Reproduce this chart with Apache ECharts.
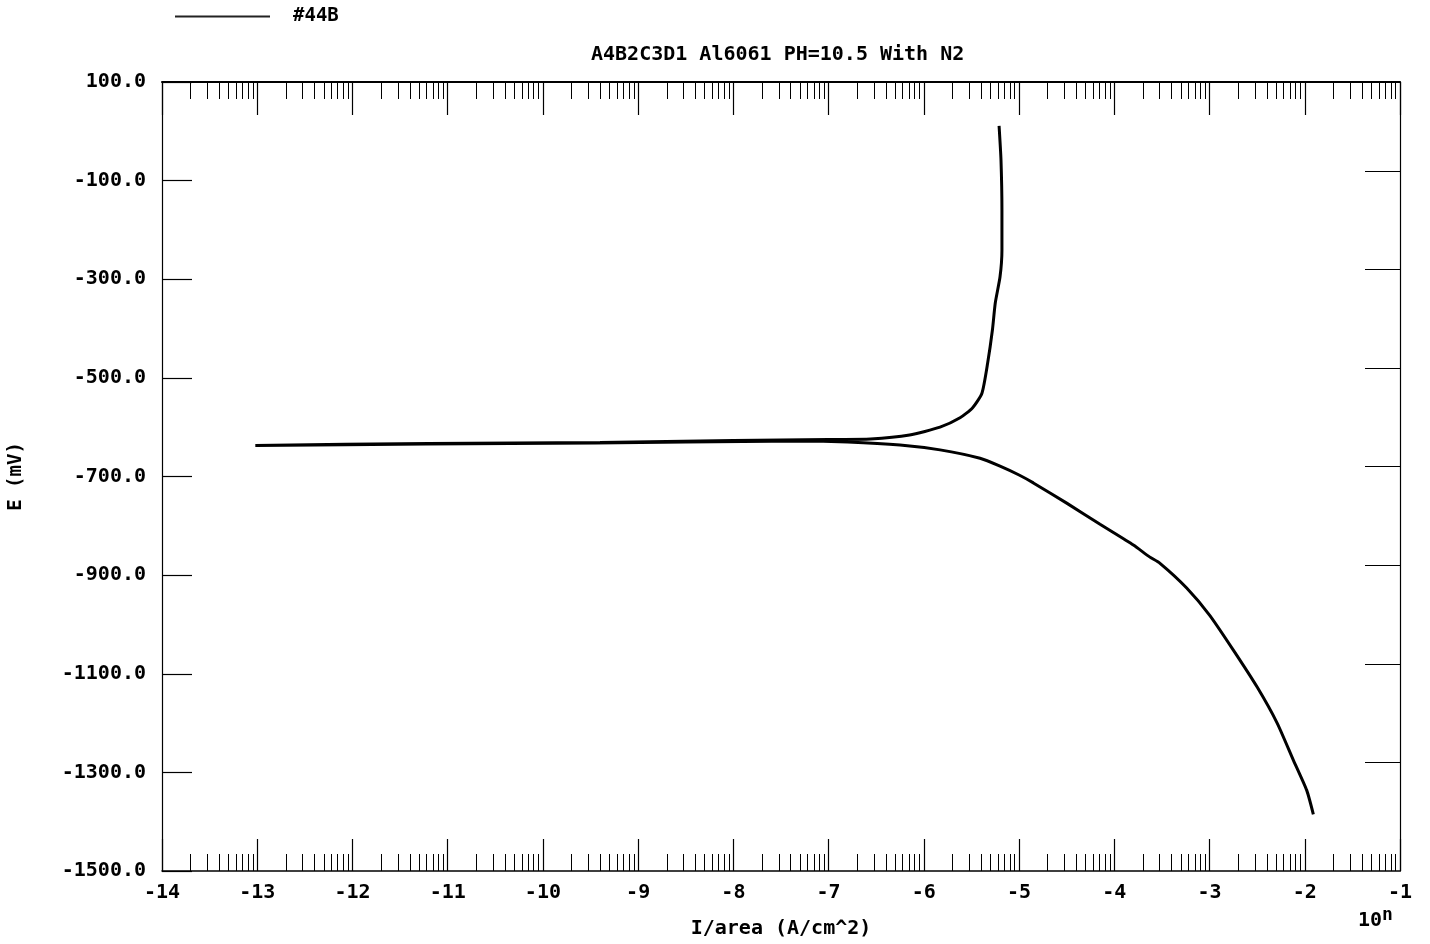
<!DOCTYPE html>
<html>
<head>
<meta charset="utf-8">
<script src="https://cdn.jsdelivr.net/npm/echarts@6/dist/echarts.min.js"></script>
<style>
  html, body { margin: 0; padding: 0; background: #fff; }
  #main { width: 1430px; height: 944px; }
</style>
</head>
<body>
<div id="main"></div>
<script>
// log10 of current density (x) and potential in mV (y)
var logCurrent = [-1.91, -1.98, -2.12, -2.29, -2.50, -2.75, -3.00, -3.24, -3.52, -3.63, -3.80,
    -4.15, -4.50, -4.85, -5.00, -5.20, -5.41, -5.83, -6.25, -6.80, -7.30, -8.50, -9.45, -11.23, -13.02,
    -11.20, -9.40, -8.00, -7.00, -6.56, -6.15, -5.83, -5.62, -5.49, -5.39, -5.33, -5.28, -5.25,
    -5.20, -5.18, -5.18, -5.19, -5.21];
var potential = [-1385, -1336, -1275, -1200, -1127, -1052, -981, -926, -876, -863, -839,
    -797, -754, -713, -697, -679, -663, -646, -636, -630, -628, -630, -632, -634, -637,
    -633, -631, -627, -625, -624, -616, -600, -581, -561, -531, -470, -403, -348,
    -295, -241, -160, -58, 11];

var yTicks = [-1500, -1300, -1100, -900, -700, -500, -300, -100, 100];
var yTicksRight = [-1280, -1080, -880, -680, -480, -280, -80];
var logSteps = [2, 3, 4, 5, 6, 7, 8, 9];

var minorX = [];
for (var n = -14; n < -1; n++) {
    logSteps.forEach(function (k) { minorX.push(n + Math.log10(k)); });
}

var seriesData = logCurrent.map(function (x, i) { return [x, potential[i]]; });

var font = '"DejaVu Sans Mono", monospace';
var ink = '#000';

var myChart = echarts.init(document.getElementById('main'));
var option = {
    backgroundColor: '#fff',
    animation: false,
    title: {
        text: 'A4B2C3D1 Al6061 PH=10.5 With N2',
        left: 586,
        top: 40,
        textStyle: { fontFamily: font, fontSize: 20, fontWeight: 'bold', color: ink }
    },
    legend: {
        left: 170,
        top: 2,
        itemWidth: 95,
        itemHeight: 2,
        icon: 'rect',
        data: ['#44B'],
        itemStyle: { color: '#222' },
        textStyle: { fontFamily: font, fontSize: 19, fontWeight: 'bold', color: ink, padding: [0, 0, 0, 18] }
    },
    grid: { left: 162, right: 30, top: 82, bottom: 73, outerBoundsMode: 'none' },
    xAxis: [{
        type: 'value', position: 'bottom', min: -14, max: -1, interval: 1,
        name: 'I/area (A/cm^2)', nameLocation: 'middle', nameGap: 48,
        nameTextStyle: { fontFamily: font, fontSize: 20, fontWeight: 'bold', color: ink },
        axisLine: { onZero: false, lineStyle: { color: ink, width: 1.5 } },
        axisTick: { inside: true, length: 32, lineStyle: { color: ink, width: 1.2 } },
        axisLabel: { fontFamily: font, fontSize: 20, fontWeight: 'bold', color: ink, margin: 12 },
        splitLine: { show: false }
    }, {
        type: 'value', position: 'bottom', min: -14, max: -1,
        axisLine: { show: false, onZero: false },
        axisTick: { inside: true, length: 17, customValues: minorX, lineStyle: { color: ink, width: 1 } },
        axisLabel: { show: false },
        splitLine: { show: false }
    }, {
        type: 'value', position: 'top', min: -14, max: -1, interval: 1,
        axisLine: { onZero: false, lineStyle: { color: ink, width: 2 } },
        axisTick: { inside: true, length: 33, lineStyle: { color: ink, width: 1.2 } },
        axisLabel: { show: false },
        splitLine: { show: false }
    }, {
        type: 'value', position: 'top', min: -14, max: -1,
        axisLine: { show: false, onZero: false },
        axisTick: { inside: true, length: 17, customValues: minorX, lineStyle: { color: ink, width: 1 } },
        axisLabel: { show: false },
        splitLine: { show: false }
    }],
    yAxis: [{
        type: 'value', position: 'left', min: -1500, max: 100,
        name: 'E (mV)', nameLocation: 'middle', nameGap: 136, nameRotate: 90,
        nameTextStyle: { fontFamily: font, fontSize: 19, fontWeight: 'bold', color: ink },
        axisLine: { onZero: false, lineStyle: { color: ink, width: 1.2 } },
        axisTick: { inside: true, length: 30, customValues: yTicks, lineStyle: { color: ink, width: 1.2 } },
        axisLabel: {
            customValues: yTicks, fontFamily: font, fontSize: 20, fontWeight: 'bold', color: ink, margin: 16,
            formatter: function (v) { return v.toFixed(1); }
        },
        splitLine: { show: false }
    }, {
        type: 'value', position: 'right', min: -1500, max: 100,
        axisLine: { onZero: false, lineStyle: { color: ink, width: 1.2 } },
        axisTick: { inside: true, length: 35, customValues: yTicksRight, lineStyle: { color: ink, width: 1.2 } },
        axisLabel: { show: false },
        splitLine: { show: false }
    }],
    graphic: [{
        type: 'text',
        left: 1358,
        top: 906,
        style: {
            text: '10{s|n}',
            fontFamily: font, fontSize: 20, fontWeight: 'bold', fill: ink,
            rich: { s: { fontFamily: font, fontSize: 18, fontWeight: 'bold', verticalAlign: 'top', padding: [0, 0, 12, 0] } }
        }
    }],
    series: [{
        name: '#44B',
        type: 'line',
        xAxisIndex: 0,
        yAxisIndex: 0,
        symbol: 'none',
        smooth: 0.2,
        lineStyle: { color: ink, width: 3 },
        itemStyle: { color: ink },
        data: seriesData
    }]
};
myChart.setOption(option);
</script>
</body>
</html>
